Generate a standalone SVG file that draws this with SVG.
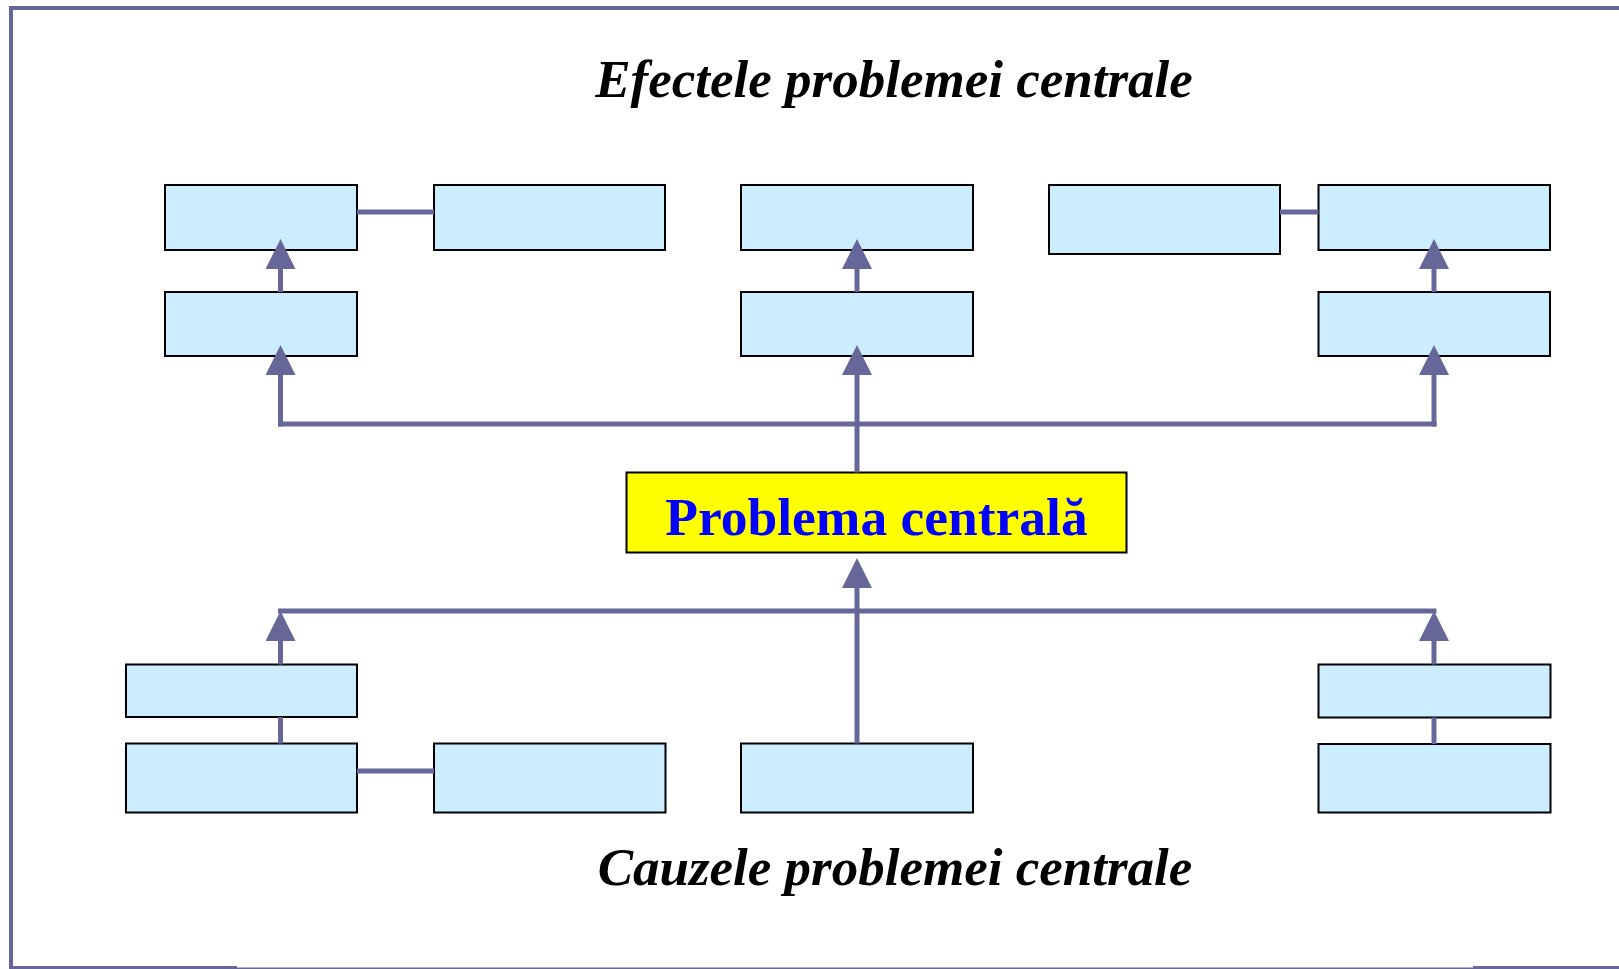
<svg xmlns="http://www.w3.org/2000/svg" width="1619" height="969" viewBox="0 0 1619 969">
<style>
.box{fill:#CCECFF;stroke:#000;stroke-width:2}
.core{fill:#FFFF00;stroke:#000;stroke-width:2}
.c{fill:none;stroke:#666699;stroke-width:5}
.frame{fill:none;stroke:#666699}
.title{font-family:"Liberation Serif","Times New Roman",serif;font-size:53px;font-weight:bold;font-style:italic;fill:#000;text-anchor:middle}
.core-t{font-family:"Liberation Serif","Times New Roman",serif;font-size:53.5px;font-weight:bold;fill:#0000FF;text-anchor:middle}
</style>
<defs>
<marker id="arr" markerUnits="userSpaceOnUse" markerWidth="30" markerHeight="30" viewBox="0 0 30 30" refX="15" refY="15" orient="auto">
<path d="M0,0 L30,15 L0,30 Z" fill="#666699"/>
</marker>
</defs>
<rect width="1619" height="969" fill="#fff"/>
<g id="frame">
<line class="frame" x1="9" y1="8" x2="1619" y2="8" stroke-width="4"/>
<line class="frame" x1="11" y1="6" x2="11" y2="969" stroke-width="4"/>
<line class="frame" x1="9" y1="967.5" x2="237" y2="967.5" stroke-width="3"/>
<line class="frame" x1="237" y1="968.3" x2="1473" y2="968.3" stroke-width="1.5"/>
<line class="frame" x1="1473" y1="967.5" x2="1619" y2="967.5" stroke-width="3"/>
</g>
<g id="title-effects"><text class="title" x="894" y="97">Efectele problemei centrale</text></g>
<g id="title-causes"><text class="title" x="895" y="885">Cauzele problemei centrale</text></g>
<g id="effect-a1"><rect class="box" x="165" y="185" width="192" height="65"/></g>
<g id="effect-a2"><rect class="box" x="434" y="185" width="231" height="65"/></g>
<g id="effect-b1"><rect class="box" x="741" y="185" width="232" height="65"/></g>
<g id="effect-c1"><rect class="box" x="1049" y="185" width="231" height="69"/></g>
<g id="effect-c2"><rect class="box" x="1318.5" y="185" width="231.5" height="65"/></g>
<g id="effect-a0"><rect class="box" x="165" y="292" width="192" height="64"/></g>
<g id="effect-b0"><rect class="box" x="741" y="292" width="232" height="64"/></g>
<g id="effect-c0"><rect class="box" x="1318.5" y="292" width="231.5" height="64"/></g>
<g id="central-problem">
<rect class="core" x="626.5" y="472.5" width="500" height="80"/>
<text class="core-t" x="876.5" y="535">Problema centrală</text>
</g>
<g id="cause-a0"><rect class="box" x="126" y="664.5" width="231" height="52.5"/></g>
<g id="cause-c0"><rect class="box" x="1318.5" y="664.5" width="232" height="53"/></g>
<g id="cause-a1"><rect class="box" x="126" y="743.5" width="231" height="69"/></g>
<g id="cause-a2"><rect class="box" x="434" y="743.5" width="231.5" height="69"/></g>
<g id="cause-b1"><rect class="box" x="741" y="743.5" width="232" height="69"/></g>
<g id="cause-c1"><rect class="box" x="1318.5" y="744" width="232" height="68.5"/></g>
<g id="connectors">
<path class="c" d="M278,424 H1436.5"/>
<path class="c" d="M280.5,426.5 V360" marker-end="url(#arr)"/>
<path class="c" d="M857,472.5 V360" marker-end="url(#arr)"/>
<path class="c" d="M1434,426.5 V360" marker-end="url(#arr)"/>
<path class="c" d="M280.5,292 V254" marker-end="url(#arr)"/>
<path class="c" d="M857,292 V254" marker-end="url(#arr)"/>
<path class="c" d="M1434,292 V254" marker-end="url(#arr)"/>
<path class="c" d="M357,212 H434"/>
<path class="c" d="M1280,212 H1318.5"/>
<path class="c" d="M278,611 H1436.5"/>
<path class="c" d="M280.5,664.5 V626" marker-end="url(#arr)"/>
<path class="c" d="M1434,664.5 V626" marker-end="url(#arr)"/>
<path class="c" d="M857,743.5 V573" marker-end="url(#arr)"/>
<path class="c" d="M280.5,717 V743.5"/>
<path class="c" d="M1434,717.5 V744"/>
<path class="c" d="M357,771 H434"/>
</g>
</svg>
